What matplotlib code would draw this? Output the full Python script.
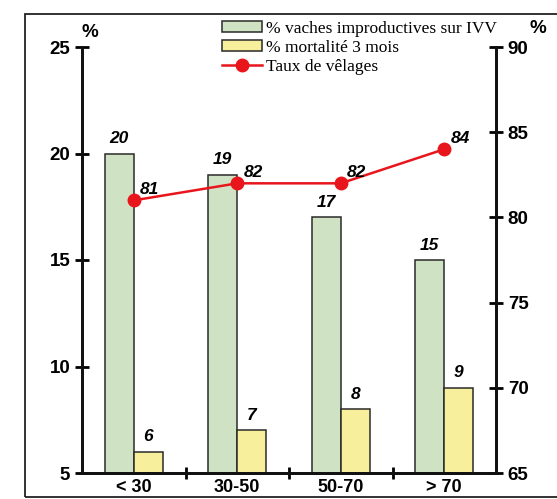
import matplotlib.pyplot as plt
from matplotlib.patches import Rectangle

categories = ['< 30', '30-50', '50-70', '> 70']
vaches_improductives = [20, 19, 17, 15]
mortalite_3_mois = [6, 7, 8, 9]
taux_velages = [81, 82, 82, 84]

green = '#cfe3c4'
yellow = '#f8ef9d'
red = '#e8161c'

fig = plt.figure(figsize=(5.57, 4.99), dpi=100)
# cadre exterieur
fig.patches.append(Rectangle((25 / 557, 2 / 499), 540 / 557, 483 / 499,
                             transform=fig.transFigure, fill=False,
                             edgecolor='#222222', linewidth=1.3))

ax = fig.add_axes([82 / 557, 26 / 499, 414 / 557, 426 / 499])
ax2 = ax.twinx()

x = list(range(len(categories)))
w = 0.28
b1 = ax.bar([i - w / 2 for i in x], vaches_improductives, width=w, bottom=0,
            color=green, edgecolor='#2a2a2a', linewidth=1.1, label='% vaches improductives sur IVV', zorder=2)
b2 = ax.bar([i + w / 2 for i in x], mortalite_3_mois, width=w, bottom=0,
            color=yellow, edgecolor='#2a2a2a', linewidth=1.1, label='% mortalité 3 mois', zorder=2)

lbl = dict(fontsize=12.5, fontweight='bold', style='italic', family='Liberation Sans')
for i, v in enumerate(vaches_improductives):
    ax.text(i - w / 2, v + 0.35, str(v), ha='center', va='bottom', **lbl)
for i, v in enumerate(mortalite_3_mois):
    ax.text(i + w / 2, v + 0.35, str(v), ha='center', va='bottom', **lbl)

ln, = ax2.plot(x, taux_velages, color=red, linewidth=1.8, marker='o', markersize=9,
               label='Taux de vêlages', zorder=3)
for i, v in enumerate(taux_velages):
    ax2.text(i + 0.06, v + 0.2, str(v), ha='left', va='bottom', **lbl)

ax.set_xlim(-0.5, 3.5)
ax.set_ylim(5, 25)
ax2.set_ylim(65, 90)
ax.set_yticks([5, 10, 15, 20, 25])
ax2.set_yticks([65, 70, 75, 80, 85, 90])

ax.set_xticks(x)
ax.set_xticklabels(categories)
ax.set_xticks([0.5, 1.5, 2.5], minor=True)
ax.tick_params(axis='x', which='major', length=0, pad=4)
ax.tick_params(axis='x', which='minor', direction='inout', length=9, width=2)

for a in (ax, ax2):
    a.tick_params(axis='y', direction='inout', length=10, width=2)
    a.spines['top'].set_visible(False)
    for s in ('left', 'right', 'bottom'):
        a.spines[s].set_linewidth(2)
        a.spines[s].set_color('#111111')
    for lab in a.get_yticklabels() + a.get_xticklabels():
        lab.set_fontweight('bold')
        lab.set_fontfamily('Liberation Sans')
        lab.set_fontsize(13.5)
for lab in ax.get_xticklabels():
    lab.set_fontsize(13)

fig.text(82 / 557, 1 - 41 / 499, '%', ha='left', va='bottom',
         fontsize=13.5, fontweight='bold', family='Liberation Sans')
fig.text(530 / 557, 1 - 37 / 499, '%', ha='left', va='bottom',
         fontsize=13.5, fontweight='bold', family='Liberation Sans')

fig.legend(handles=[b1, b2, ln], loc='upper left', bbox_to_anchor=(215 / 557, 1 - 14 / 499),
           frameon=False, prop={'family': 'Liberation Serif', 'size': 12.5},
           handlelength=2.3, handleheight=0.6, labelspacing=0.18, handletextpad=0.25,
           borderaxespad=0)

plt.savefig('out.png', dpi=100)
